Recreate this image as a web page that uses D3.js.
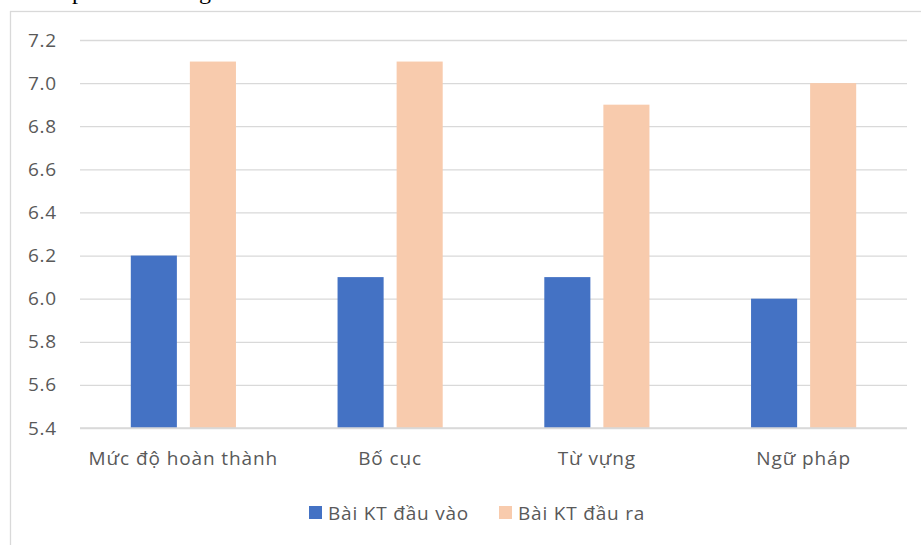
<!DOCTYPE html>
<html>
<head>
<meta charset="utf-8">
<script src="https://cdn.jsdelivr.net/npm/d3@7"></script>
<style>
  body { margin: 0; background: #fff; }
  text { font-family: "Open Sans", "Noto Sans", sans-serif; }
</style>
</head>
<body>
<div id="chart"></div>
<script>
// Data
const categories = ["Mức độ hoàn thành", "Bố cục", "Từ vựng", "Ngữ pháp"];
const seriesNames = ["Bài KT đầu vào", "Bài KT đầu ra"];
const inputScores = [6.2, 6.1, 6.1, 6.0];
const outputScores = [7.1, 7.1, 6.9, 7.0];
const yTicks = [5.4, 5.6, 5.8, 6.0, 6.2, 6.4, 6.6, 6.8, 7.0, 7.2];
const colors = ["#4472c4", "#f8cbad"];

const W = 921, H = 545;
const margin = { top: 40, right: 14, bottom: 117, left: 80 };
const width = W - margin.left - margin.right,
      height = H - margin.top - margin.bottom;

const root = d3.select("#chart").append("svg")
  .attr("width", W)
  .attr("height", H);

// clipped caption from the page above the chart
root.append("text").attr("x", 72).attr("y", -1)
  .style("font-family", "'Liberation Serif', serif").style("font-size", "24px")
  .attr("fill", "#000").text("p");
root.append("text").attr("x", 199).attr("y", -1)
  .style("font-family", "'Liberation Serif', serif").style("font-size", "24px")
  .attr("fill", "#000").text("g");

// chart frame
root.append("rect")
  .attr("x", 10.5).attr("y", 11.5)
  .attr("width", 930).attr("height", 560)
  .attr("fill", "#fff")
  .attr("stroke", "#d9d9d9")
  .attr("stroke-width", 1.3);

const svg = root.append("g")
  .attr("transform", `translate(${margin.left},${margin.top})`);

// Scales
const x0 = d3.scaleBand().domain(categories).range([0, width]).padding(0);
const x1 = d3.scaleBand().domain(seriesNames)
  .range([0, x0.bandwidth()])
  .paddingInner(0.22).paddingOuter(0.86);
const y = d3.scaleLinear().domain([5.4, 7.2]).range([height, 0]);

// Gridlines
svg.append("g")
  .call(d3.axisLeft(y).tickValues(yTicks).tickSize(-width).tickFormat(""))
  .call(g => g.select(".domain").remove())
  .call(g => g.selectAll("line").attr("stroke", "#d9d9d9").attr("stroke-width", 1.3));

// Y labels
svg.append("g")
  .call(d3.axisLeft(y).tickValues(yTicks).tickSize(0).tickPadding(23).tickFormat(d3.format(".1f")))
  .call(g => g.select(".domain").remove())
  .call(g => g.selectAll("text")
    .attr("fill", "#595959")
    .style("font-size", "19px")
    .style("letter-spacing", "0.8px")
    .style("font-family", "'Open Sans', sans-serif"));

// Bars
const rows = categories.map((c, i) => ({ cat: c, vals: [inputScores[i], outputScores[i]] }));
svg.append("g").selectAll("g")
  .data(rows)
  .join("g")
    .attr("transform", d => `translate(${x0(d.cat)},0)`)
  .selectAll("rect")
  .data(d => d.vals.map((v, j) => ({ s: seriesNames[j], v, j })))
  .join("rect")
    .attr("x", d => x1(d.s))
    .attr("y", d => y(d.v))
    .attr("width", x1.bandwidth())
    .attr("height", d => height - y(d.v))
    .attr("fill", d => colors[d.j]);

// X axis line + labels
svg.append("line")
  .attr("x1", 0).attr("x2", width)
  .attr("y1", height).attr("y2", height)
  .attr("stroke", "#d9d9d9").attr("stroke-width", 1.3);

svg.append("g")
  .attr("transform", `translate(0,${height})`)
  .call(d3.axisBottom(x0).tickSize(0).tickPadding(24))
  .call(g => g.select(".domain").remove())
  .call(g => g.selectAll("text")
    .attr("fill", "#595959")
    .style("font-size", "19px")
    .style("letter-spacing", "0.9px")
    .style("font-family", "'Open Sans', sans-serif"));

// Legend
const legend = root.append("g").attr("transform", "translate(0,513)");
const legendX = [309, 499];
seriesNames.forEach((name, i) => {
  legend.append("rect")
    .attr("x", legendX[i]).attr("y", -7)
    .attr("width", 13).attr("height", 13)
    .attr("fill", colors[i]);
  legend.append("text")
    .attr("x", legendX[i] + 19).attr("y", 0)
    .attr("dy", "0.35em")
    .attr("fill", "#595959")
    .style("font-size", "19px")
    .style("letter-spacing", "0.8px")
    .text(name);
});
</script>
</body>
</html>
